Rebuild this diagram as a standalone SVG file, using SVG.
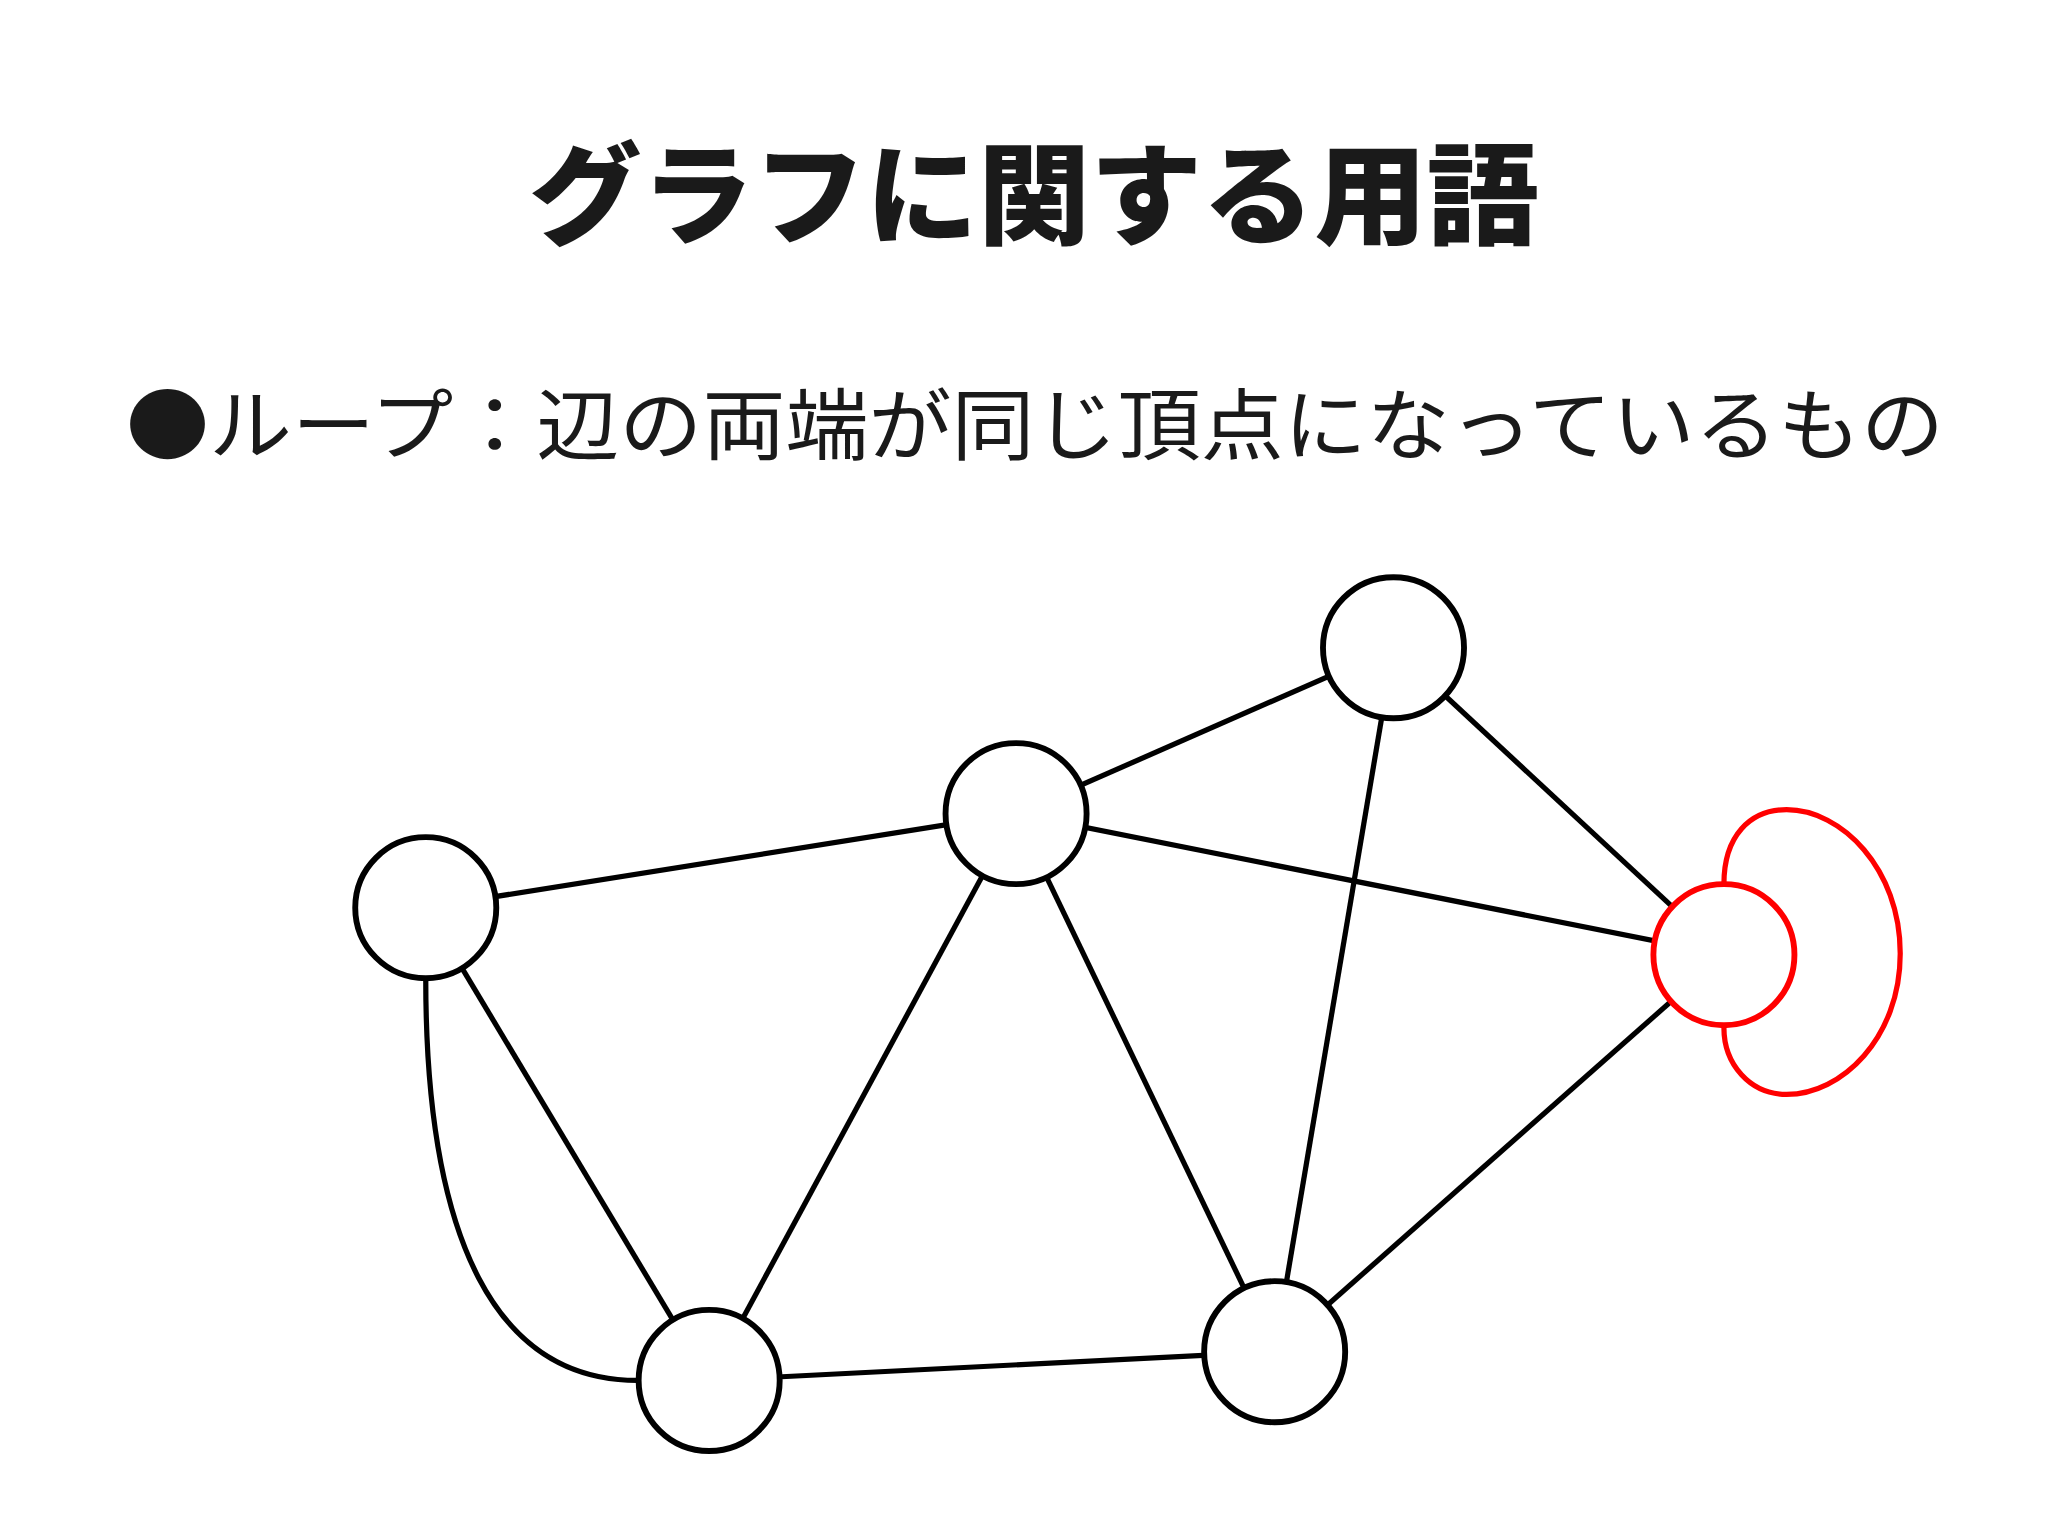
<svg xmlns="http://www.w3.org/2000/svg" width="2048" height="1535" viewBox="0 0 2048 1535">
<style>
.e{stroke:#000;stroke-width:4;fill:none}
.n{fill:#fff;stroke:#000;stroke-width:4.5}
.r{stroke:#f00}
</style>
<rect width="2048" height="1535" fill="#fff"/>
<text x="1034" y="236" text-anchor="middle" font-family="Noto Sans CJK JP, sans-serif" font-weight="900" font-size="110" fill="#1a1a1a" textLength="1010" lengthAdjust="spacingAndGlyphs">グラフに関する用語</text>
<text x="126" y="454" font-family="Noto Sans CJK JP, sans-serif" font-size="78" fill="#1a1a1a" textLength="1818" lengthAdjust="spacingAndGlyphs">●ループ：辺の両端が同じ頂点になっているもの</text>
<g transform="scale(1.306)">
<g id="edges">
<line class="e" x1="326" y1="695" x2="778" y2="623"/>
<line class="e" x1="778" y1="623" x2="1067" y2="496"/>
<line class="e" x1="1067" y1="496" x2="1320" y2="731"/>
<line class="e" x1="778" y1="623" x2="1320" y2="731"/>
<line class="e" x1="1067" y1="496" x2="976" y2="1035"/>
<line class="e" x1="778" y1="623" x2="543" y2="1057"/>
<line class="e" x1="778" y1="623" x2="976" y2="1035"/>
<line class="e" x1="326" y1="695" x2="543" y2="1057"/>
<path class="e" d="M326,750 C326,950 380,1057 488,1057"/>
<line class="e" x1="543" y1="1057" x2="976" y2="1035"/>
<line class="e" x1="976" y1="1035" x2="1320" y2="731"/>
<path class="e r" d="M1320,677 C1320,640 1340,620 1368,620 C1410,620 1455,665 1455,730 C1455,795 1410,838 1368,838 C1340,838 1320,815 1320,787"/>
</g>
<g id="nA"><ellipse class="n" cx="326" cy="695" rx="54" ry="54"/></g>
<g id="nB"><ellipse class="n" cx="778" cy="623" rx="54" ry="54"/></g>
<g id="nC"><ellipse class="n" cx="1067" cy="496" rx="54" ry="54"/></g>
<g id="nD"><ellipse class="n r" cx="1320" cy="731" rx="54" ry="54"/></g>
<g id="nE"><ellipse class="n" cx="543" cy="1057" rx="54" ry="54"/></g>
<g id="nF"><ellipse class="n" cx="976" cy="1035" rx="54" ry="54"/></g>
</g>
</svg>
